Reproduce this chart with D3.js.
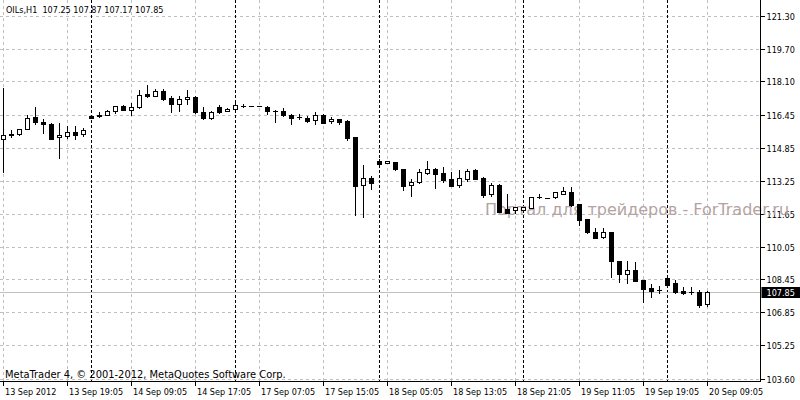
<!DOCTYPE html>
<html>
<head>
<meta charset="utf-8">
<script src="https://cdn.jsdelivr.net/npm/d3@7"></script>
<style>
  html, body { margin: 0; padding: 0; background: #fff; }
  svg { display: block; }
  text { font-family: 'DejaVu Sans Condensed', 'DejaVu Sans', sans-serif; font-stretch: condensed; }
</style>
</head>
<body>
<svg id="chart" width="800" height="400"></svg>
<script>
// ---------- data ----------
const symbol = "OILs";
const period = "H1";
const lastOHLC = [107.25, 107.87, 107.17, 107.85];
const copyright = "MetaTrader 4, © 2001-2012, MetaQuotes Software Corp.";
const watermark = "Портал для трейдеров - ForTrader.ru";

const priceTicks = [121.30, 119.70, 118.10, 116.45, 114.85, 113.25, 111.65, 110.05, 108.45, 106.85, 105.25, 103.60];
const timeTickIndex = [0, 8, 16, 24, 32, 40, 48, 56, 64, 72, 80, 88];
const timeTickLabels = ["13 Sep 2012", "13 Sep 19:05", "14 Sep 09:05", "14 Sep 17:05", "17 Sep 07:05", "17 Sep 15:05",
  "18 Sep 05:05", "18 Sep 13:05", "18 Sep 21:05", "19 Sep 11:05", "19 Sep 19:05", "20 Sep 09:05"];
const daySeparatorIndex = [11, 29, 47, 65, 83];
const lastPrice = 107.85;

const open = [115.28,115.52,115.54,115.77,116.35,116.14,116.02,115.38,115.45,115.62,
  115.52,116.41,116.48,116.46,116.66,116.90,116.73,116.84,117.49,117.40,
  117.62,117.28,116.98,117.23,117.35,116.61,116.30,116.84,116.66,116.75,
  116.92,116.90,116.90,116.85,116.68,116.66,116.46,116.35,116.33,116.23,
  116.46,116.16,116.26,116.16,115.40,113.03,113.38,114.22,114.11,114.16,
  113.82,113.03,113.18,113.65,113.82,113.64,113.33,113.07,113.36,113.78,
  113.38,112.60,113.05,111.87,111.81,111.82,111.92,112.48,112.43,112.45,
  112.60,112.73,112.11,111.38,110.78,110.50,110.76,109.36,108.70,108.91,
  108.42,108.05,107.94,108.51,108.26,107.89,107.85,107.85,107.25];
const high = [117.78,115.73,115.80,116.46,116.87,116.25,116.06,116.06,115.94,115.94,
  115.84,116.46,116.62,116.69,116.92,116.93,117.06,117.68,117.92,117.71,
  117.71,117.39,117.39,117.68,117.37,116.84,116.64,116.93,116.78,117.06,
  117.00,116.91,116.91,116.88,116.72,116.79,116.53,116.50,116.43,116.61,
  116.53,116.36,116.27,116.22,115.41,114.03,113.49,114.33,114.22,114.17,
  113.83,113.34,113.85,114.22,113.87,113.94,113.69,113.78,113.85,113.85,
  113.42,113.16,113.10,112.61,112.00,111.98,112.49,112.60,112.44,112.71,
  112.97,112.97,112.12,111.39,110.94,110.94,110.78,109.37,109.36,109.32,
  108.44,108.23,108.13,108.52,108.42,108.10,108.10,107.94,107.87];
const low = [113.69,115.41,115.51,115.76,116.01,115.60,115.29,114.35,115.36,115.31,
  115.45,116.30,116.38,116.45,116.57,116.71,116.48,116.79,117.32,117.39,
  117.19,116.62,116.67,117.00,116.57,116.28,116.28,116.55,116.64,116.67,
  116.83,116.89,116.89,116.49,116.14,116.40,116.04,116.25,116.14,116.00,
  116.07,116.06,116.04,115.26,111.58,111.49,112.88,114.04,114.10,113.78,
  112.82,112.54,113.17,113.59,112.92,113.20,112.99,112.97,113.26,113.34,
  112.48,112.52,111.74,111.69,111.67,111.81,111.91,112.40,112.42,112.40,
  112.59,112.03,111.09,110.70,110.47,110.49,108.55,108.31,108.26,108.37,
  107.37,107.61,107.78,108.07,107.80,107.73,107.73,107.12,107.17];
const close = [115.49,115.47,115.78,116.30,116.11,116.01,115.31,115.49,115.62,115.50,
  115.75,116.33,116.40,116.67,116.90,116.73,116.84,117.44,117.40,117.62,
  117.26,117.00,117.23,117.35,116.62,116.30,116.62,116.62,116.75,116.95,
  116.92,116.90,116.90,116.64,116.67,116.46,116.33,116.35,116.19,116.45,
  116.09,116.26,116.14,115.35,113.02,113.38,113.17,114.09,114.21,113.81,
  113.02,113.19,113.68,113.82,113.60,113.30,113.02,113.38,113.73,113.36,
  112.57,113.05,111.76,111.70,111.99,111.97,112.48,112.48,112.43,112.70,
  112.77,112.08,111.35,110.78,110.48,110.76,109.36,108.70,108.91,108.39,
  107.97,107.90,107.94,108.18,107.82,107.80,107.85,107.21,107.85];

// ---------- layout ----------
const W = 800, H = 400;
const plotRight = 760.5, plotBottom = 381.5;
const svg = d3.select("#chart");

const x = d3.scaleLinear().domain([0, open.length - 1]).range([3, 3 + 8 * (open.length - 1)]);
const y = d3.scaleLinear().domain([103.60, 121.30]).range([379, 15.7]);
const py = v => Math.round(y(v));

const candles = open.map((o, i) => ({ i, o, h: high[i], l: low[i], c: close[i] }));

// grid
const grid = svg.append("g").attr("stroke", "#c0c0c0").attr("stroke-width", 1)
  .attr("stroke-dasharray", "3,3").attr("shape-rendering", "crispEdges");
grid.selectAll("line.h").data(priceTicks).join("line").attr("class", "h")
  .attr("x1", 0).attr("x2", plotRight).attr("y1", d => py(d) + 0.5).attr("y2", d => py(d) + 0.5);
grid.selectAll("line.v").data(timeTickIndex).join("line").attr("class", "v")
  .attr("x1", d => x(d) + 0.5).attr("x2", d => x(d) + 0.5).attr("y1", 0).attr("y2", plotBottom);

// day separators
svg.append("g").attr("stroke", "#000").attr("stroke-dasharray", "3,2").attr("shape-rendering", "crispEdges")
  .selectAll("line").data(daySeparatorIndex).join("line")
  .attr("x1", d => x(d) + 0.5).attr("x2", d => x(d) + 0.5).attr("y1", 0).attr("y2", plotBottom);

// current price line
svg.append("line").attr("x1", 0).attr("x2", plotRight)
  .attr("y1", py(lastPrice) + 0.5).attr("y2", py(lastPrice) + 0.5)
  .attr("stroke", "#c0c0c0").attr("shape-rendering", "crispEdges");

// right axis
const rAxis = svg.append("g");
rAxis.selectAll("line").data(priceTicks).join("line")
  .attr("x1", plotRight).attr("x2", plotRight + 4)
  .attr("y1", d => py(d) + 0.5).attr("y2", d => py(d) + 0.5)
  .attr("stroke", "#000").attr("shape-rendering", "crispEdges");
rAxis.selectAll("text").data(priceTicks).join("text")
  .attr("x", plotRight + 6).attr("y", d => py(d) + 4)
  .attr("font-size", 9).attr("fill", "#000").text(d => d.toFixed(2));

// bottom axis
const bAxis = svg.append("g");
bAxis.selectAll("line").data(timeTickIndex).join("line")
  .attr("x1", d => x(d) + 0.5).attr("x2", d => x(d) + 0.5)
  .attr("y1", plotBottom).attr("y2", plotBottom + 4)
  .attr("stroke", "#000").attr("shape-rendering", "crispEdges");
bAxis.selectAll("text").data(timeTickIndex).join("text")
  .attr("x", d => x(d) + 2).attr("y", 395)
  .attr("font-size", 9).attr("fill", "#000").text((d, k) => timeTickLabels[k]);

// watermark
svg.append("text").attr("x", 485).attr("y", 215)
  .style("font-family", "'DejaVu Sans', sans-serif").style("font-stretch", "normal")
  .attr("font-size", 16).attr("fill", "#b3a3a3").text(watermark);

// candles
const cg = svg.append("g").attr("shape-rendering", "crispEdges");
cg.selectAll("line.wick").data(candles).join("line").attr("class", "wick")
  .attr("x1", d => x(d.i) + 0.5).attr("x2", d => x(d.i) + 0.5)
  .attr("y1", d => py(d.h)).attr("y2", d => py(d.l) + 1)
  .attr("stroke", "#000");
cg.selectAll("rect.body").data(candles).join("rect").attr("class", "body")
  .each(function (d) {
    const t = py(Math.max(d.o, d.c)), b = py(Math.min(d.o, d.c));
    const cx = x(d.i);
    const r = d3.select(this);
    if (d.c > d.o && b - t >= 1) {
      r.attr("x", cx - 1.5).attr("y", t + 0.5).attr("width", 4).attr("height", b - t)
        .attr("fill", "#fff").attr("stroke", "#000");
    } else {
      r.attr("x", cx - 2).attr("y", t).attr("width", 5).attr("height", Math.max(b - t + 1, 1))
        .attr("fill", "#000");
    }
  });

// borders
svg.append("line").attr("x1", plotRight).attr("x2", plotRight).attr("y1", 0).attr("y2", plotBottom)
  .attr("stroke", "#000").attr("shape-rendering", "crispEdges");
svg.append("line").attr("x1", 0).attr("x2", plotRight).attr("y1", plotBottom).attr("y2", plotBottom)
  .attr("stroke", "#000").attr("shape-rendering", "crispEdges");

// current price label
svg.append("rect").attr("x", plotRight + 1).attr("y", py(lastPrice) - 5).attr("width", W - plotRight).attr("height", 11)
  .attr("fill", "#000");
svg.append("text").attr("x", plotRight + 6).attr("y", py(lastPrice) + 4)
  .attr("font-size", 9).attr("fill", "#fff").text(lastPrice.toFixed(2));

// title
svg.append("text").attr("x", 6).attr("y", 13).attr("font-size", 9).attr("fill", "#000")
  .attr("xml:space", "preserve")
  .text(`${symbol},${period}  ${lastOHLC.map(v => v.toFixed(2)).join(" ")}`);

// copyright
svg.append("text").attr("x", 5).attr("y", 378).attr("font-size", 11).attr("fill", "#000").text(copyright);
</script>
</body>
</html>
